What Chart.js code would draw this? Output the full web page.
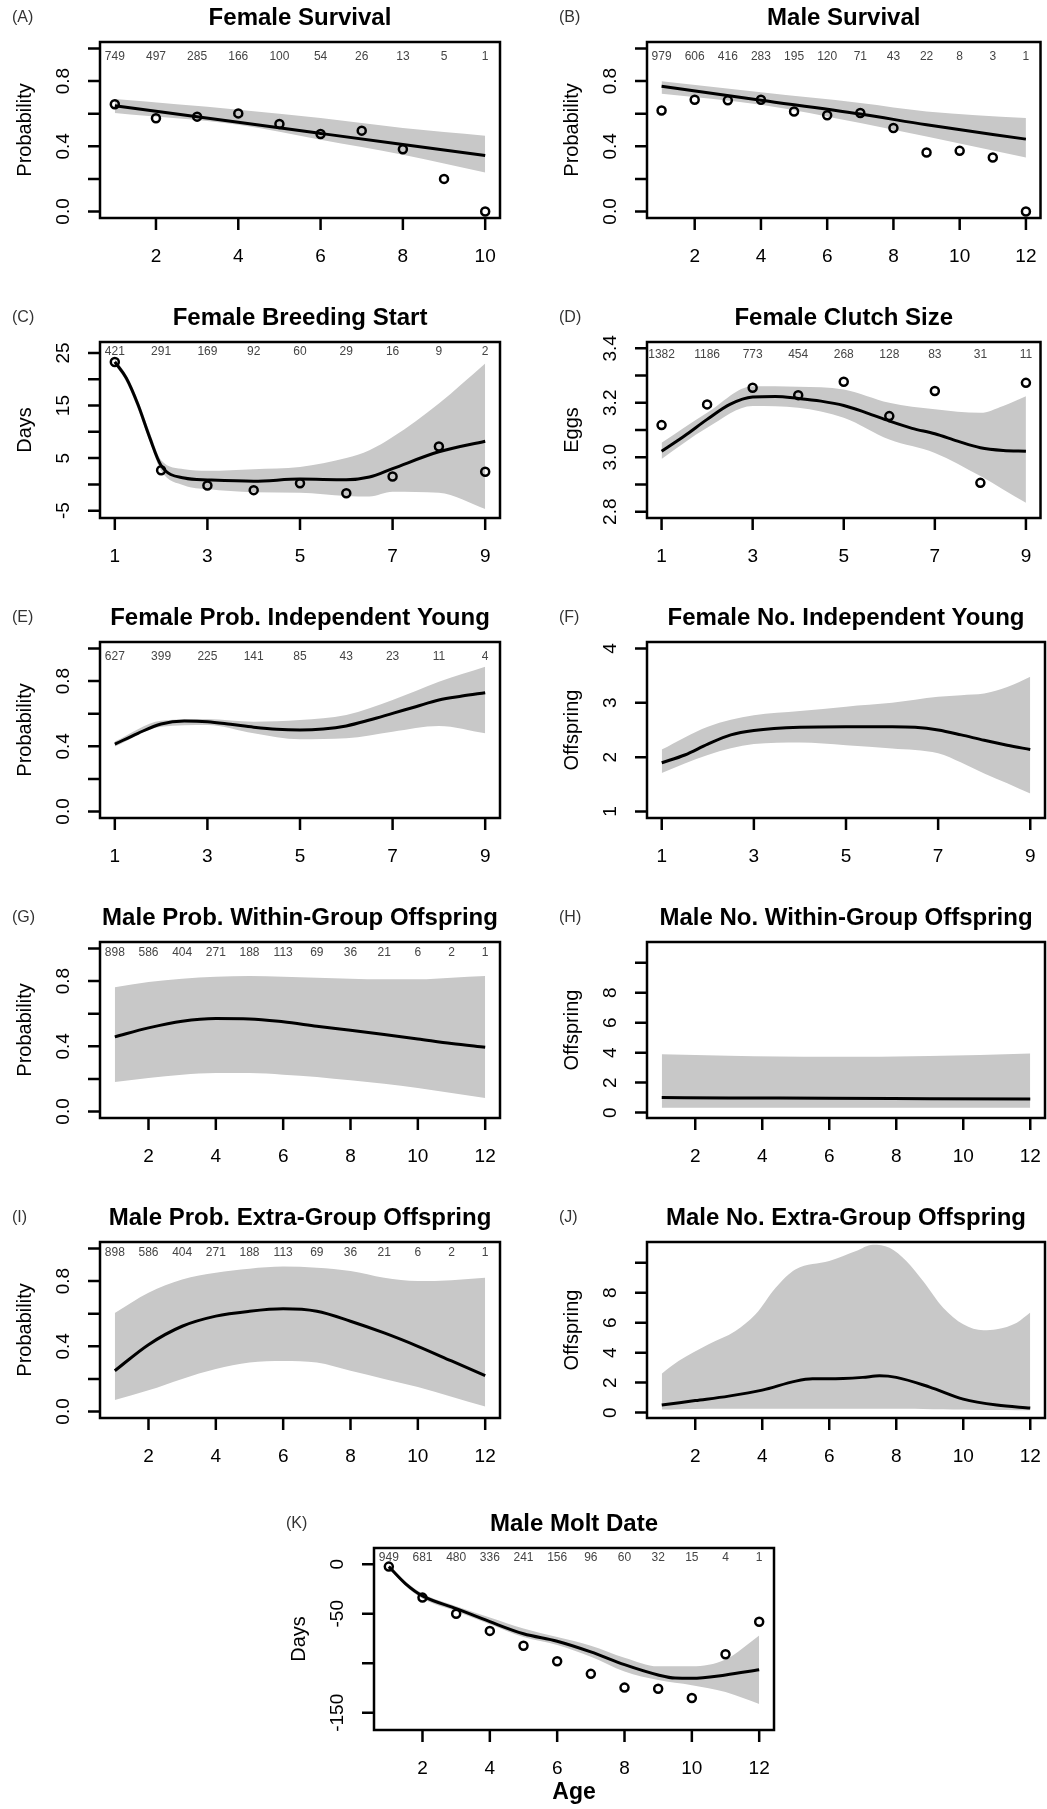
<!DOCTYPE html>
<html lang="en">
<head>
<meta charset="UTF-8">
<title>Age trajectories</title>
<script src="https://cdn.jsdelivr.net/npm/chart.js"></script>
<style>
  body { margin: 0; background: #fff; }
  #page { position: relative; width: 1047px; height: 1809px; background: #fff; }
  #page canvas { position: absolute; }
</style>
</head>
<body>
<div id="page">
  <canvas id="pA"></canvas><canvas id="pB"></canvas>
  <canvas id="pC"></canvas><canvas id="pD"></canvas>
  <canvas id="pE"></canvas><canvas id="pF"></canvas>
  <canvas id="pG"></canvas><canvas id="pH"></canvas>
  <canvas id="pI"></canvas><canvas id="pJ"></canvas>
  <canvas id="pK"></canvas>
</div>
<script>
// ages and tick labels
const ages9 = [1,2,3,4,5,6,7,8,9];
const ages10 = [1,2,3,4,5,6,7,8,9,10];
const ages12 = [1,2,3,4,5,6,7,8,9,10,11,12];
const xTicks9 = [1,3,5,7,9];
const xTicks10 = [2,4,6,8,10];
const xTicks12 = [2,4,6,8,10,12];

const probTicks = [0,0.2,0.4,0.6,0.8,1.0];
const probLabels = ['0.0','','0.4','','0.8',''];
const daysCTicks = [-5,0,5,10,15,20,25];
const daysCLabels = ['-5','','5','','15','','25'];
const eggTicks = [2.8,2.9,3.0,3.1,3.2,3.3,3.4];
const eggLabels = ['2.8','','3.0','','3.2','','3.4'];
const offFTicks = [1,2,3,4];
const offFLabels = ['1','2','3','4'];
const offTicks = [0,2,4,6,8,10];
const offLabels = ['0','2','4','6','8',''];
const daysKTicks = [-150,-100,-50,0];
const daysKLabels = ['-150','','-50','0'];

// (A) Female Survival
const nA = [749,497,285,166,100,54,26,13,5,1];
const obsA = [0.658,0.572,0.582,0.602,0.537,0.475,0.496,0.382,0.2,0.0];
const gridA = [1,4,6,8,10];
const fitA = [0.649,0.547,0.479,0.411,0.343];
const hiA = [0.69,0.625,0.573,0.512,0.465];
const loA = [0.604,0.532,0.44,0.348,0.239];

// (B) Male Survival
const nB = [979,606,416,283,195,120,71,43,22,8,3,1];
const obsB = [0.62,0.686,0.682,0.686,0.614,0.59,0.604,0.512,0.362,0.372,0.331,0.0];
const gridB = [1,4,7,9,12];
const fitB = [0.768,0.683,0.598,0.532,0.444];
const hiB = [0.799,0.731,0.666,0.614,0.573];
const loB = [0.723,0.655,0.543,0.46,0.331];

// (C) Female Breeding Start
const nC = [421,291,169,92,60,29,16,9,2];
const obsC = [23.3,2.7,-0.2,-1.1,0.2,-1.7,1.5,7.2,2.4];
const gridC = [1,1.25,1.5,1.75,2,2.5,3,4,5,6,6.5,7,8,9];
const fitC = [23.3,20.2,15.2,9.0,3.6,1.2,0.85,0.6,1.0,0.9,1.4,3.0,6.2,8.2];
const hiC = [23.8,20.8,16.0,10.0,4.6,2.9,2.6,2.9,3.3,5.0,6.5,9.0,15.4,23.0];
const loC = [22.8,19.5,14.3,8.2,2.6,-0.2,-0.9,-1.5,-1.6,-2.2,-2.3,-1.4,-1.6,-4.7];

// (D) Female Clutch Size
const nD = [1382,1186,773,454,268,128,83,31,11];
const obsD = [3.118,3.194,3.255,3.228,3.277,3.151,3.243,2.906,3.273];
const gridD = [1,1.5,2,2.5,3,3.5,4,4.5,5,5.5,6,6.5,7,7.5,8,8.5,9];
const fitD = [3.022,3.078,3.139,3.194,3.221,3.223,3.216,3.206,3.190,3.163,3.133,3.106,3.086,3.059,3.035,3.025,3.022];
const bandD = [1,2,3,4,5,6,7,8,8.5,9];
const hiD = [3.053,3.163,3.261,3.259,3.249,3.2,3.176,3.163,3.188,3.224];
const loD = [2.994,3.108,3.188,3.182,3.145,3.065,3.016,2.931,2.882,2.833];

// (E) Female Prob. Independent Young
const nE = [627,399,225,141,85,43,23,11,4];
const gridE = [1,1.5,2,2.5,3,3.5,4,4.5,5,5.5,6,6.5,7,7.5,8,8.5,9];
const fitE = [0.413,0.48,0.537,0.555,0.551,0.535,0.517,0.504,0.5,0.506,0.525,0.561,0.602,0.643,0.684,0.708,0.729];
const bandE = [1,2,3,4,5,6,7,8,9];
const hiE = [0.43,0.557,0.568,0.551,0.561,0.592,0.684,0.796,0.888];
const loE = [0.398,0.52,0.531,0.48,0.443,0.449,0.49,0.525,0.48];

// (F) Female No. Independent Young
const gridF = [1,1.5,2,2.5,3,4,5,6,6.5,7,7.5,8,8.5,9];
const fitF = [1.897,2.04,2.24,2.41,2.49,2.55,2.56,2.56,2.55,2.5,2.41,2.31,2.22,2.14];
const bandF = [1,2,3,4,5,6,7,7.5,8,8.5,9];
const hiF = [2.14,2.56,2.77,2.85,2.93,3.0,3.11,3.14,3.17,3.29,3.48];
const loF = [1.71,2.04,2.24,2.27,2.22,2.16,2.07,1.9,1.7,1.52,1.33];

// (G) Male Prob. Within-Group Offspring
const nG = [898,586,404,271,188,113,69,36,21,6,2,1];
const fitG = [0.458,0.513,0.554,0.570,0.568,0.55,0.523,0.498,0.472,0.445,0.417,0.394];
const hiG = [0.763,0.794,0.815,0.827,0.831,0.827,0.821,0.815,0.811,0.811,0.821,0.831];
const loG = [0.181,0.205,0.226,0.236,0.236,0.226,0.212,0.191,0.17,0.144,0.113,0.082];

// (H) Male No. Within-Group Offspring
const gridH = [1,3,6,9,12];
const fitH = [1.0,0.98,0.96,0.93,0.9];
const hiH = [3.9,3.8,3.72,3.78,3.95];
const loH = [0.33,0.33,0.32,0.32,0.33];

// (I) Male Prob. Extra-Group Offspring
const nI = [898,586,404,271,188,113,69,36,21,6,2,1];
const fitI = [0.25,0.41,0.523,0.585,0.615,0.63,0.615,0.554,0.482,0.4,0.31,0.22];
const hiI = [0.605,0.729,0.81,0.852,0.876,0.889,0.882,0.862,0.821,0.8,0.806,0.821];
const loI = [0.07,0.13,0.2,0.26,0.3,0.31,0.3,0.25,0.2,0.15,0.09,0.03];

// (J) Male No. Extra-Group Offspring
const gridJ = [1,2,3,4,5,5.5,6,7,7.5,8,9,10,11,12];
const fitJ = [0.5,0.8,1.1,1.5,2.1,2.25,2.25,2.35,2.45,2.35,1.7,0.9,0.5,0.3];
const bandJ = [1,1.5,2.4,3.2,3.8,4.4,5,6,6.8,7.3,7.8,8.3,8.8,9.4,10,10.6,11,11.6,12];
const hiJ = [2.6,3.44,4.56,5.45,6.56,8.33,9.56,10.11,10.78,11.2,11.0,10.11,8.78,7.0,5.89,5.49,5.56,6.0,6.67];
const loJ = [0.2,0.22,0.25,0.25,0.25,0.25,0.25,0.25,0.25,0.25,0.25,0.25,0.24,0.22,0.2,0.18,0.17,0.16,0.15];

// (K) Male Molt Date
const nK = [949,681,480,336,241,156,96,60,32,15,4,1];
const obsK = [-2.4,-33.7,-50,-67.3,-82.3,-97.9,-110.7,-124.6,-125.7,-135.1,-90.9,-58];
const gridK = [1,1.5,2,3,4,5,6,7,8,9,9.5,10,11,12];
const fitK = [-2.4,-19.8,-32,-44.8,-58,-70.2,-77.7,-88.5,-101.4,-111.8,-115,-115.2,-111.8,-106.6];
const bandK = [1,1.5,2,3,4,5,6,7,8,9,10,11,12];
const hiK = [-0.7,-17.5,-29.6,-42.4,-53.9,-65,-73.6,-82.3,-94.4,-103.1,-103.1,-96.2,-71.9];
const loK = [-4.1,-22,-34.7,-47.6,-60.7,-73.6,-81.6,-93.4,-108.3,-117,-122.2,-129.1,-141.2];

const FONT = '"Liberation Sans", Arial, sans-serif';
const BAND = '#c8c8c8';
const LEFT = { l: 100, t: 42, r: 500, b: 218 };
const RIGHT = { l: 124, t: 42, r: 522, b: 218 };

function pts(xs, ys) {
    return xs.map((x, i) => ({ x: x, y: ys[i] }));
}

// R-style box, ticks and text drawn from the chart's scales
function rAxes(p) {
    return {
        id: 'rAxes',
        afterDraw(chart) {
            const ctx = chart.ctx, a = chart.chartArea;
            const xs = chart.scales.x, ys = chart.scales.y;
            ctx.save();
            ctx.strokeStyle = '#000';
            ctx.lineWidth = 2.5;
            ctx.strokeRect(a.left, a.top, a.right - a.left, a.bottom - a.top);
            ctx.beginPath();
            p.xTicks.forEach(v => {
                const px = xs.getPixelForValue(v);
                ctx.moveTo(px, a.bottom); ctx.lineTo(px, a.bottom + 12);
            });
            p.yTicks.forEach(v => {
                const py = ys.getPixelForValue(v);
                ctx.moveTo(a.left - 12, py); ctx.lineTo(a.left, py);
            });
            ctx.stroke();

            ctx.fillStyle = '#000';
            ctx.textAlign = 'center';
            ctx.textBaseline = 'middle';
            ctx.font = '19px ' + FONT;
            p.xTicks.forEach(v => ctx.fillText(String(v), xs.getPixelForValue(v), a.bottom + 39));
            p.yTicks.forEach((v, i) => {
                if (!p.yLabels[i]) return;
                ctx.save();
                ctx.translate(a.left - 36, ys.getPixelForValue(v));
                ctx.rotate(-Math.PI / 2);
                ctx.fillText(p.yLabels[i], 0, 0);
                ctx.restore();
            });

            ctx.font = '20px ' + FONT;
            ctx.save();
            ctx.translate(a.left - 75, (a.top + a.bottom) / 2);
            ctx.rotate(-Math.PI / 2);
            ctx.fillText(p.yTitle, 0, 0);
            ctx.restore();

            ctx.font = 'bold 24px ' + FONT;
            ctx.fillText(p.title, (a.left + a.right) / 2, a.top - 24);

            ctx.font = '16px ' + FONT;
            ctx.fillStyle = '#333';
            ctx.textAlign = 'left';
            ctx.fillText(p.letter, a.left - 88, a.top - 24);

            if (p.counts) {
                ctx.font = '12px ' + FONT;
                ctx.fillStyle = '#444';
                ctx.textAlign = 'center';
                p.counts.forEach((n, i) => {
                    ctx.fillText(String(n), xs.getPixelForValue(p.countX[i]), ys.getPixelForValue(p.countY));
                });
            }
            if (p.xTitle) {
                ctx.fillStyle = '#000';
                ctx.font = 'bold 23px ' + FONT;
                ctx.fillText(p.xTitle, (a.left + a.right) / 2, a.bottom + 63);
            }
            ctx.restore();
        }
    };
}

function panel(id, p) {
    const cv = document.getElementById(id);
    cv.width = p.w;
    cv.height = p.h;
    cv.style.left = p.left + 'px';
    cv.style.top = p.top + 'px';
    const box = p.box;

    const datasets = [];
    if (p.obs) {
        datasets.push({
            data: pts(p.obsX, p.obs), showLine: false, order: 0,
            pointRadius: 4, pointBorderWidth: 2.5,
            pointBorderColor: '#000', pointBackgroundColor: 'rgba(0,0,0,0)'
        });
    }
    datasets.push({
        data: pts(p.fitX, p.fit), order: 1, fill: false,
        borderColor: '#000', borderWidth: 3, pointRadius: 0,
        cubicInterpolationMode: 'monotone'
    });
    datasets.push({
        data: pts(p.bandX, p.hi), order: 2, fill: '+1', backgroundColor: BAND,
        borderColor: 'rgba(0,0,0,0)', borderWidth: 1, pointRadius: 0,
        cubicInterpolationMode: 'monotone'
    });
    datasets.push({
        data: pts(p.bandX, p.lo), order: 3, fill: false,
        borderColor: 'rgba(0,0,0,0)', borderWidth: 1, pointRadius: 0,
        cubicInterpolationMode: 'monotone'
    });

    new Chart(cv.getContext('2d'), {
        type: 'line',
        data: { datasets: datasets },
        options: {
            responsive: false,
            animation: false,
            events: [],
            layout: { padding: { left: box.l, top: box.t, right: p.w - box.r, bottom: p.h - box.b } },
            scales: {
                x: { type: 'linear', min: p.xMin, max: p.xMax, display: false },
                y: { type: 'linear', min: p.yMin, max: p.yMax, display: false }
            },
            plugins: { legend: { display: false }, tooltip: { enabled: false } }
        },
        plugins: [rAxes(p)]
    });
}

const X9 = { xMin: 0.68, xMax: 9.32, xTicks: xTicks9 };
const X10 = { xMin: 0.64, xMax: 10.36, xTicks: xTicks10 };
const X12 = { xMin: 0.56, xMax: 12.44, xTicks: xTicks12 };
const PROB = { yMin: -0.04, yMax: 1.04, yTicks: probTicks, yLabels: probLabels, yTitle: 'Probability' };
const OFF = { yMin: -0.36, yMax: 11.38, yTicks: offTicks, yLabels: offLabels, yTitle: 'Offspring' };

panel('pA', Object.assign({ left: 0, top: 0, w: 523, h: 300, box: LEFT, letter: '(A)', title: 'Female Survival',
    obsX: ages10, obs: obsA, fitX: gridA, fit: fitA, bandX: gridA, hi: hiA, lo: loA,
    counts: nA, countX: ages10, countY: 0.95 }, X10, PROB));

panel('pB', Object.assign({ left: 523, top: 0, w: 524, h: 300, box: RIGHT, letter: '(B)', title: 'Male Survival',
    obsX: ages12, obs: obsB, fitX: gridB, fit: fitB, bandX: gridB, hi: hiB, lo: loB,
    counts: nB, countX: ages12, countY: 0.95 }, X12, PROB));

panel('pC', Object.assign({ left: 0, top: 300, w: 523, h: 300, box: LEFT, letter: '(C)', title: 'Female Breeding Start',
    obsX: ages9, obs: obsC, fitX: gridC, fit: fitC, bandX: gridC, hi: hiC, lo: loC,
    counts: nC, countX: ages9, countY: 25.2,
    yMin: -6.4, yMax: 27.1, yTicks: daysCTicks, yLabels: daysCLabels, yTitle: 'Days' }, X9));

panel('pD', Object.assign({ left: 523, top: 300, w: 524, h: 300, box: RIGHT, letter: '(D)', title: 'Female Clutch Size',
    obsX: ages9, obs: obsD, fitX: gridD, fit: fitD, bandX: bandD, hi: hiD, lo: loD,
    counts: nD, countX: ages9, countY: 3.375,
    yMin: 2.777, yMax: 3.423, yTicks: eggTicks, yLabels: eggLabels, yTitle: 'Eggs' }, X9));

panel('pE', Object.assign({ left: 0, top: 600, w: 523, h: 300, box: LEFT, letter: '(E)', title: 'Female Prob. Independent Young',
    fitX: gridE, fit: fitE, bandX: bandE, hi: hiE, lo: loE,
    counts: nE, countX: ages9, countY: 0.95 }, X9, PROB));

panel('pF', Object.assign({ left: 523, top: 600, w: 524, h: 300, box: RIGHT, letter: '(F)', title: 'Female No. Independent Young',
    fitX: gridF, fit: fitF, bandX: bandF, hi: hiF, lo: loF,
    yMin: 0.88, yMax: 4.12, yTicks: offFTicks, yLabels: offFLabels, yTitle: 'Offspring' }, X9));

panel('pG', Object.assign({ left: 0, top: 900, w: 523, h: 300, box: LEFT, letter: '(G)', title: 'Male Prob. Within-Group Offspring',
    fitX: ages12, fit: fitG, bandX: ages12, hi: hiG, lo: loG,
    counts: nG, countX: ages12, countY: 0.975 }, X12, PROB));

panel('pH', Object.assign({ left: 523, top: 900, w: 524, h: 300, box: RIGHT, letter: '(H)', title: 'Male No. Within-Group Offspring',
    fitX: gridH, fit: fitH, bandX: gridH, hi: hiH, lo: loH }, X12, OFF));

panel('pI', Object.assign({ left: 0, top: 1200, w: 523, h: 300, box: LEFT, letter: '(I)', title: 'Male Prob. Extra-Group Offspring',
    fitX: ages12, fit: fitI, bandX: ages12, hi: hiI, lo: loI,
    counts: nI, countX: ages12, countY: 0.975 }, X12, PROB));

panel('pJ', Object.assign({ left: 523, top: 1200, w: 524, h: 300, box: RIGHT, letter: '(J)', title: 'Male No. Extra-Group Offspring',
    fitX: gridJ, fit: fitJ, bandX: bandJ, hi: hiJ, lo: loJ }, X12, OFF));

panel('pK', Object.assign({ left: 260, top: 1500, w: 540, h: 309, box: { l: 114, t: 48, r: 514, b: 230 },
    letter: '(K)', title: 'Male Molt Date', xTitle: 'Age',
    obsX: ages12, obs: obsK, fitX: gridK, fit: fitK, bandX: bandK, hi: hiK, lo: loK,
    counts: nK, countX: ages12, countY: 7,
    yMin: -167.4, yMax: 16.4, yTicks: daysKTicks, yLabels: daysKLabels, yTitle: 'Days' }, X12));
</script>
</body>
</html>
